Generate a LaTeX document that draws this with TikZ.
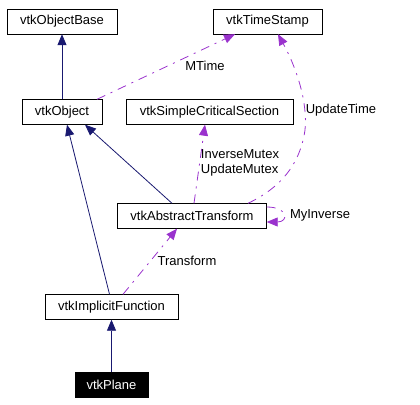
\documentclass[tikz,border=0pt]{standalone}
\usepackage{fontspec}
\setmainfont{Liberation Sans}
\usetikzlibrary{arrows.meta}
\definecolor{inheritcolor}{RGB}{25,25,112}
\definecolor{usecolor}{RGB}{154,50,205}

\begin{document}
\begin{tikzpicture}[
    x=1pt, y=-1pt,
    cls/.style={rectangle, draw, font=\fontsize{13}{15}\selectfont, minimum height=25pt, inner sep=0pt, fill=white},
    current/.style={cls, fill=black, text=white},
    lbl/.style={font=\fontsize{13}{15}\selectfont, inner sep=0pt, align=left},
    inherit/.style={-{Triangle[length=11pt, width=9pt]}, draw=inheritcolor, line width=0.8pt},
    uses/.style={-{Triangle[length=11pt, width=9pt]}, draw=usecolor, line width=0.8pt, dash pattern=on 9pt off 6pt on 2pt off 6pt}
]
\useasboundingbox (0,0) rectangle (420,404);

% Classes
\node[cls, minimum width=110pt] (base) at (62,21.5) {vtkObjectBase};
\node[cls, minimum width=109pt] (stamp) at (267.5,21.5) {vtkTimeStamp};
\node[cls, minimum width=80pt] (object) at (62,112) {vtkObject};
\node[cls, minimum width=167pt] (section) at (209.5,112) {vtkSimpleCriticalSection};
\node[cls, minimum width=149pt] (transform) at (192,216) {vtkAbstractTransform};
\node[cls, minimum width=133pt] (implicit) at (111.5,307) {vtkImplicitFunction};
\node[current, minimum width=73pt] (plane) at (111.5,384.5) {vtkPlane};

% Inheritance
\draw[inherit] (object) -- (base);
\draw[inherit] ([xshift=-2pt]implicit.north) -- ([xshift=5pt]object.south);
\draw[inherit] ([xshift=-20pt]transform.north) -- ([xshift=23pt]object.south);
\draw[inherit] (plane) -- (implicit);

% Usage
\draw[uses] ([xshift=35pt]object.north) -- ([xshift=-32.5pt]stamp.south);
\draw[uses] ([xshift=2pt]transform.north) -- ([xshift=-4.5pt]section.south);
\draw[uses] ([xshift=56pt]transform.north) .. controls (280,188) and (300,165) .. (305,130)
    .. controls (308,100) and (295,65) .. ([xshift=10.5pt]stamp.south);
\draw[uses] ([yshift=9pt]transform.east) .. controls +(22,0) and +(22,0) .. ([yshift=-6pt]transform.east);
\draw[uses] ([xshift=11.5pt]implicit.north) -- ([xshift=-15pt]transform.south);

% Labels
\node[lbl] (mtime) at (205,66) {MTime};
\node[lbl] (mutex) at (240,163) {InverseMutex\\UpdateMutex};
\node[lbl] (updatetime) at (341,110) {UpdateTime};
\node[lbl] (myinverse) at (320,215) {MyInverse};
\node[lbl] (transformlbl) at (187,261) {Transform};

\end{tikzpicture}
\end{document}
